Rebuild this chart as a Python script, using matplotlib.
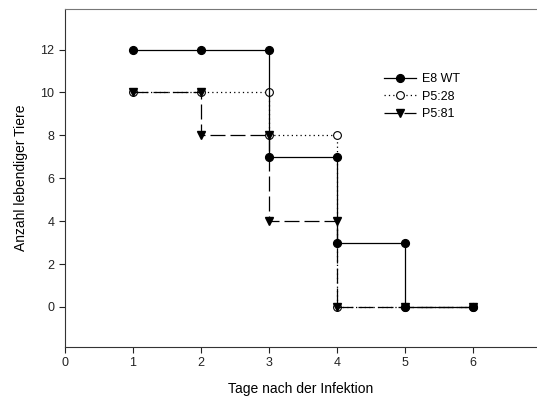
import matplotlib
matplotlib.use("Agg")
import matplotlib.pyplot as plt

plt.rcParams['font.family'] = ['Liberation Sans', 'DejaVu Sans']

# survival data: days and number of living animals (corners of the steps)
wt_days = [1, 2, 3, 3, 4, 4, 5, 5, 6]
wt_alive = [12, 12, 12, 7, 7, 3, 3, 0, 0]

p528_days = [1, 2, 3, 3, 4, 4, 5, 6]
p528_alive = [10, 10, 10, 8, 8, 0, 0, 0]

p581_days = [1, 2, 2, 3, 3, 4, 4, 5, 6]
p581_alive = [10, 10, 8, 8, 4, 4, 0, 0, 0]

x_ticks = [0, 1, 2, 3, 4, 5, 6]
y_ticks = [0, 2, 4, 6, 8, 10, 12]

fig = plt.figure(figsize=(5.37, 4.03), dpi=100)
ax = fig.add_axes([0.121, 0.139, 0.879, 0.839])

ax.plot(wt_days, wt_alive, color='black', lw=0.9, marker='o', ms=5.6,
        mfc='black', mec='black', label='E8 WT', zorder=3)
ax.plot(p528_days, p528_alive, color='black', lw=0.9, ls=(0, (1, 2.5)),
        marker='o', ms=5.6, mfc='white', mec='black', mew=0.8, label='P5:28',
        zorder=2)
ax.plot(p581_days, p581_alive, color='black', lw=0.9, ls=(0, (12, 4)),
        marker='v', ms=5.6, mfc='black', mec='black', label='P5:81', zorder=2.5)

ax.set_xlim(0, 6.94)
ax.set_ylim(-1.87, 13.9)
ax.set_xticks(x_ticks)
ax.set_yticks(y_ticks)
ax.tick_params(direction='out', length=4, width=0.8, labelsize=9, colors='#222222')
ax.spines['right'].set_visible(False)
for s in ['left', 'bottom']:
    ax.spines[s].set_color('#333333')
ax.spines['top'].set_color('#777777')

ax.set_xlabel('Tage nach der Infektion', fontsize=10, labelpad=9)
ax.set_ylabel('Anzahl lebendiger Tiere', fontsize=10, labelpad=9)

ax.legend(loc='upper left', bbox_to_anchor=(0.675, 0.81), frameon=False,
          fontsize=9, handlelength=2.6, handletextpad=0.5, labelspacing=0.45,
          borderpad=0, borderaxespad=0)

fig.savefig('out.png', dpi=100)
